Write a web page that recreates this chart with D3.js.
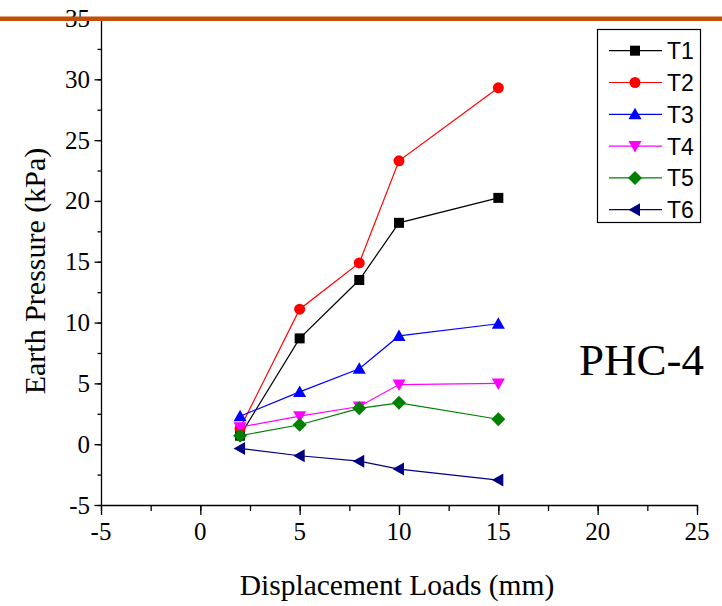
<!DOCTYPE html>
<html>
<head>
<meta charset="utf-8">
<script src="https://cdn.jsdelivr.net/npm/d3@7"></script>
<style>
  body { margin: 0; background: #fff; }
  svg { display: block; }
  .serif { font-family: "Liberation Serif", "Times New Roman", serif; }
  .sans { font-family: "Liberation Sans", Arial, sans-serif; }
</style>
</head>
<body>
<div id="chart"></div>
<script>
const loads = [2, 5, 8, 10, 15];
const seriesNames = ["T1", "T2", "T3", "T4", "T5", "T6"];
const t1 = [0.7, 8.7, 13.5, 18.2, 20.25];
const t2 = [1.3, 11.1, 14.9, 23.3, 29.3];
const t3 = [2.3, 4.3, 6.2, 8.9, 9.9];
const t4 = [1.4, 2.3, 3.1, 4.9, 5.0];
const t5 = [0.7, 1.6, 2.95, 3.4, 2.05];
const t6 = [-0.35, -0.95, -1.4, -2.05, -2.95];
const xTicks = [-5, 0, 5, 10, 15, 20, 25];
const yTicks = [-5, 0, 5, 10, 15, 20, 25, 30, 35];

const colors = ["#000000", "#ff0000", "#0000ff", "#ff00ff", "#008000", "#000080"];
const shapes = ["square", "circle", "up", "down", "diamond", "left"];
const allSeries = [t1, t2, t3, t4, t5, t6];

const width = 722, height = 606;
const svg = d3.select("#chart").append("svg")
  .attr("width", width).attr("height", height);

const x = d3.scaleLinear().domain([-5, 25]).range([101, 697]);
const y = d3.scaleLinear().domain([-5, 35]).range([505, 18.5]);

// marker path generator
function marker(shape) {
  if (shape === "square") return "M-5,-5h10v10h-10z";
  if (shape === "circle") return d3.symbol(d3.symbolCircle, 95)();
  if (shape === "up") return "M0,-6.5L6.5,5L-6.5,5Z";
  if (shape === "down") return "M0,6.5L6.5,-5L-6.5,-5Z";
  if (shape === "diamond") return "M0,-7L7,0L0,7L-7,0Z";
  if (shape === "left") return "M-6.5,0L5,-6.5L5,6.5Z";
}

// minor ticks
const xMinor = d3.range(-5, 25.1, 2.5);
const yMinor = d3.range(-5, 35.1, 2.5);

svg.append("g")
  .attr("transform", "translate(0,505)")
  .call(d3.axisBottom(x).tickValues(xMinor).tickSize(6).tickFormat(""))
  .call(g => g.select(".domain").remove());
svg.append("g")
  .attr("transform", "translate(101,0)")
  .call(d3.axisLeft(y).tickValues(yMinor).tickSize(3.5).tickFormat(""))
  .call(g => g.select(".domain").remove());

svg.append("g")
  .attr("transform", "translate(0,505)")
  .call(d3.axisBottom(x).tickValues(xTicks).tickFormat("").tickSize(10).tickSizeOuter(0));
svg.append("g")
  .attr("transform", "translate(101,0)")
  .call(d3.axisLeft(y).tickValues(yTicks).tickFormat("").tickSize(6.5).tickSizeOuter(0));

svg.selectAll(".tick line").attr("stroke", "#000").attr("stroke-width", 1.3);
svg.selectAll(".domain").attr("stroke", "#000").attr("stroke-width", 1.3);

// tick labels
svg.append("g").selectAll("text")
  .data(xTicks).enter().append("text")
  .attr("class", "serif")
  .attr("x", d => x(d)).attr("y", 540)
  .attr("text-anchor", "middle")
  .attr("font-size", 25)
  .text(d => String(d));
svg.append("g").selectAll("text")
  .data(yTicks).enter().append("text")
  .attr("class", "serif")
  .attr("x", 90).attr("y", d => y(d) + 8.5)
  .attr("text-anchor", "end")
  .attr("font-size", 25)
  .text(d => String(d));

// axis titles
svg.append("text")
  .attr("class", "serif")
  .attr("x", 397).attr("y", 595)
  .attr("text-anchor", "middle")
  .attr("font-size", 29.5)
  .text("Displacement Loads (mm)");
svg.append("text")
  .attr("class", "serif")
  .attr("transform", "translate(45,271) rotate(-90)")
  .attr("text-anchor", "middle")
  .attr("font-size", 30)
  .text("Earth Pressure (kPa)");

svg.append("text")
  .attr("class", "serif")
  .attr("x", 579).attr("y", 375)
  .attr("font-size", 45)
  .text("PHC-4");

// series
const line = d3.line().x((d, i) => x(loads[i])).y(d => y(d));
allSeries.forEach((vals, k) => {
  const g = svg.append("g");
  g.append("path")
    .attr("d", line(vals))
    .attr("fill", "none")
    .attr("stroke", colors[k])
    .attr("stroke-width", 1.2);
  g.selectAll("path.mk")
    .data(vals)
    .enter()
    .append("path")
    .attr("class", "mk")
    .attr("d", marker(shapes[k]))
    .attr("transform", (d, i) => "translate(" + x(loads[i]) + "," + y(d) + ")")
    .attr("fill", colors[k]);
});

// legend
const legend = svg.append("g");
legend.append("rect")
  .attr("x", 597.5).attr("y", 29.5)
  .attr("width", 103).attr("height", 193)
  .attr("fill", "#fff").attr("stroke", "#000").attr("stroke-width", 1.2);
seriesNames.forEach((name, k) => {
  const ly = 50.7 + k * 31.8;
  legend.append("line")
    .attr("x1", 609).attr("x2", 662).attr("y1", ly).attr("y2", ly)
    .attr("stroke", colors[k]).attr("stroke-width", 1.2);
  legend.append("path")
    .attr("d", marker(shapes[k]))
    .attr("transform", "translate(635," + ly + ")")
    .attr("fill", colors[k]);
  legend.append("text")
    .attr("class", "sans")
    .attr("x", 667).attr("y", ly + 8.5)
    .attr("font-size", 23)
    .text(name);
});

// orange rule across the top
svg.append("rect")
  .attr("x", 0).attr("y", 16.5).attr("width", width).attr("height", 4.5)
  .attr("fill", "#c24f05");
</script>
</body>
</html>
